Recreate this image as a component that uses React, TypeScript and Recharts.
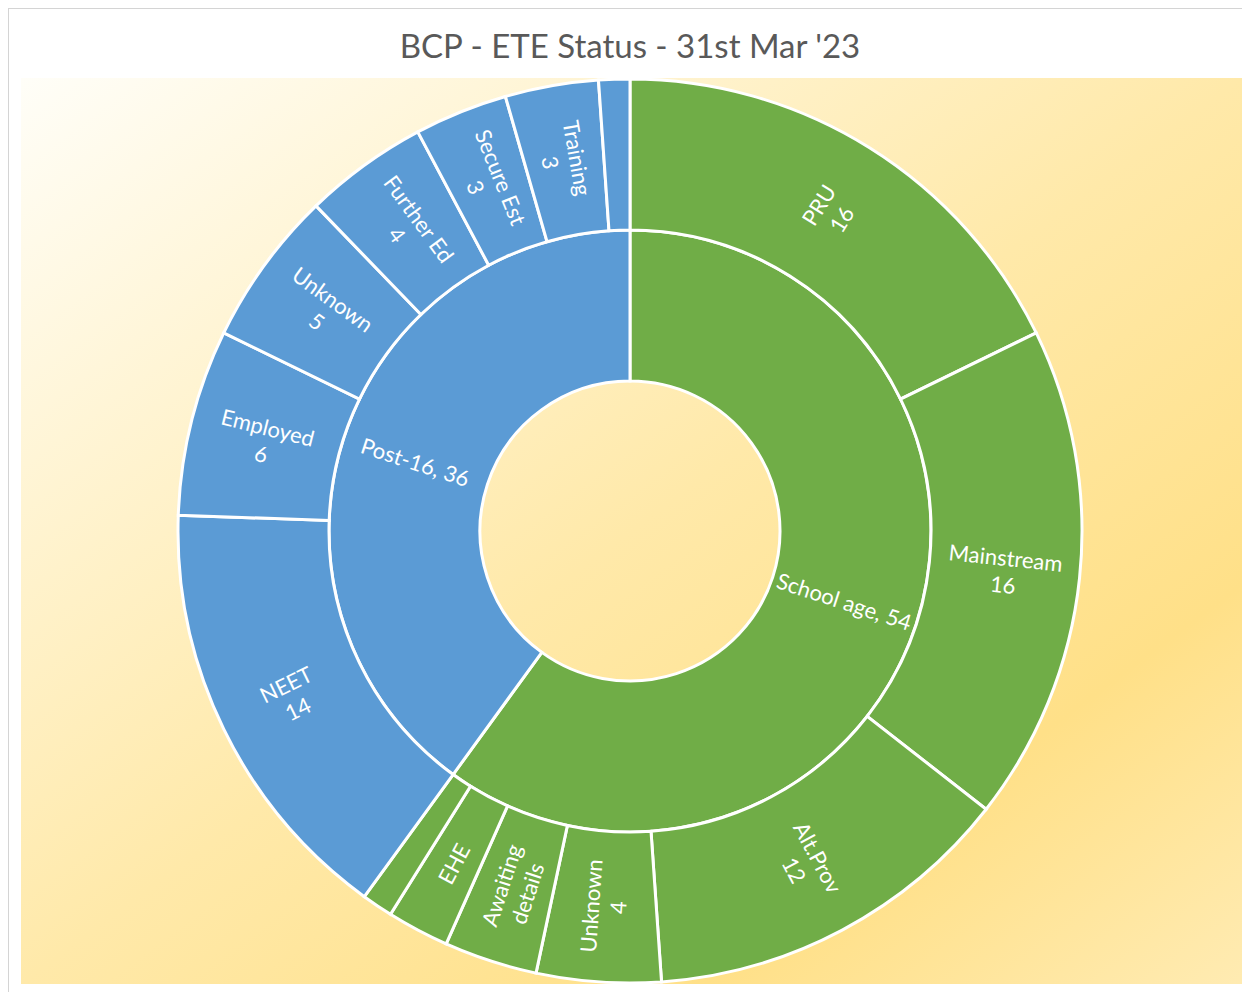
import { PieChart, Pie, Cell } from "recharts";

const groupNames = ["School age", "Post-16"];
const groupValues = [54, 36];

const subNames = [
  "PRU", "Mainstream", "Alt.Prov", "Unknown", "Awaiting details", "EHE", "",
  "NEET", "Employed", "Unknown", "Further Ed", "Secure Est", "Training", "",
];
const subValues = [16, 16, 12, 4, 3, 2, 1, 14, 6, 5, 4, 3, 3, 1];
const subGroup = [0, 0, 0, 0, 0, 0, 0, 1, 1, 1, 1, 1, 1, 1];

// labels Excel wrapped onto two lines and printed without a value
const wrapped = ["Awaiting details"];

const COLORS = ["#70AD47", "#5B9BD5"];
const FONT = "Lato, 'Open Sans', sans-serif";
const RAD = Math.PI / 180;

const inner = groupNames.map((name, i) => ({ name, value: groupValues[i] }));
const outer = subNames.map((name, i) => ({ name, value: subValues[i], group: subGroup[i] }));

function place(cx: number, cy: number, midAngle: number, r: number) {
  const x = cx + r * Math.cos(-midAngle * RAD);
  const y = cy + r * Math.sin(-midAngle * RAD);
  // clockwise from 12 o'clock
  let theta = (90 - midAngle) % 360;
  if (theta < 0) theta += 360;
  const rot = theta < 180 ? theta - 90 : theta - 270;
  return { x, y, rot };
}

const renderLabel = (twoLines: boolean) => (props: any) => {
  const { cx, cy, midAngle, innerRadius, outerRadius, name, value } = props;
  if (!name) return null;
  const { x, y, rot } = place(cx, cy, midAngle, (innerRadius + outerRadius) / 2);
  let lines: string[];
  if (!twoLines) lines = [`${name}, ${value}`];
  else if (wrapped.includes(name)) lines = name.split(" ");
  else if (value < 3) lines = [name];
  else lines = [name, String(value)];
  const lh = 27;
  const start = -((lines.length - 1) * lh) / 2;
  return (
    <text
      x={x}
      y={y}
      fill="#fff"
      fontSize={22}
      fontFamily={FONT}
      textAnchor="middle"
      dominantBaseline="central"
      transform={`rotate(${rot} ${x} ${y})`}
    >
      {lines.map((l, i) => (
        <tspan key={i} x={x} y={y + start + i * lh}>
          {l}
        </tspan>
      ))}
    </text>
  );
};

export default function App() {
  return (
    <div
      style={{
        position: "relative",
        width: 1241,
        height: 983,
        borderTop: "1px solid #D4D4D4",
        borderLeft: "1px solid #D4D4D4",
        background: "#fff",
      }}
    >
      <style>{`html,body{overflow:hidden}`}</style>
      <div
        style={{
          position: "absolute",
          left: 0,
          top: 18,
          width: 1242,
          textAlign: "center",
          fontFamily: FONT,
          fontSize: 33,
          lineHeight: "36px",
          color: "#595959",
        }}
      >
        BCP - ETE Status - 31st Mar '23
      </div>
      <div
        style={{
          position: "absolute",
          left: 12,
          top: 69,
          width: 1221,
          height: 906,
          background: "linear-gradient(to bottom right, #FFFEF8 0%, #FFE9A9 50%, #FFE088 78%, #FFEBB2 100%)",
        }}
      />
      <div style={{ position: "absolute", left: 0, top: 0 }}>
        <PieChart width={1241} height={983} margin={{ top: 0, right: 0, bottom: 0, left: 0 }}>
          <Pie
            data={inner}
            dataKey="value"
            nameKey="name"
            cx={621}
            cy={522}
            innerRadius={150}
            outerRadius={301}
            startAngle={90}
            endAngle={-270}
            stroke="#fff"
            strokeWidth={3}
            label={renderLabel(false)}
            labelLine={false}
            isAnimationActive={false}
          >
            {inner.map((d, i) => (
              <Cell key={d.name} fill={COLORS[i]} />
            ))}
          </Pie>
          <Pie
            data={outer}
            dataKey="value"
            nameKey="name"
            cx={621}
            cy={522}
            innerRadius={301}
            outerRadius={452}
            startAngle={90}
            endAngle={-270}
            stroke="#fff"
            strokeWidth={3}
            label={renderLabel(true)}
            labelLine={false}
            isAnimationActive={false}
          >
            {outer.map((d, i) => (
              <Cell key={i} fill={COLORS[d.group]} />
            ))}
          </Pie>
        </PieChart>
      </div>
    </div>
  );
}
